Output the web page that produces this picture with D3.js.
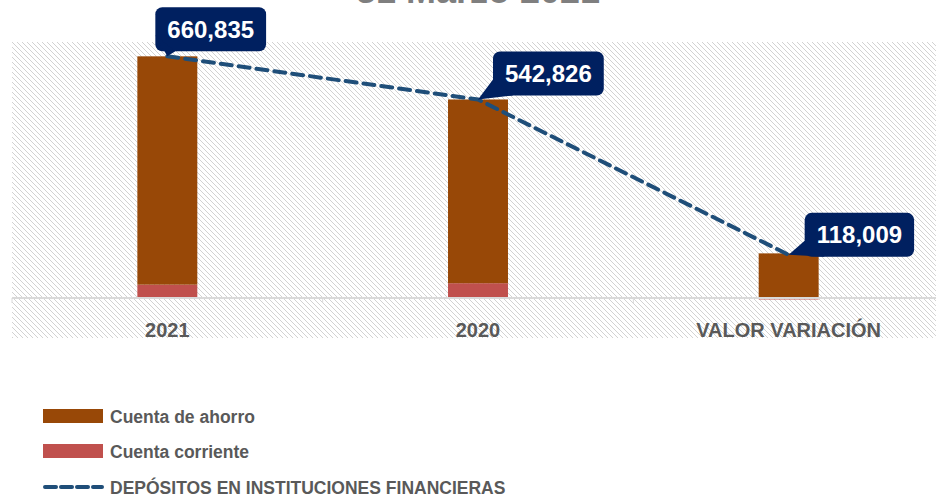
<!DOCTYPE html>
<html>
<head>
<meta charset="utf-8">
<script src="https://cdn.jsdelivr.net/npm/d3@7"></script>
<style>
    body { margin: 0; background: #ffffff; overflow: hidden; }
    text { font-family: "Liberation Sans", Arial, sans-serif; }
</style>
</head>
<body>
<script>
// data
const categories = ["2021", "2020", "VALOR VARIACIÓN"];
const cuentaAhorro = [624335, 502326, 122009];
const cuentaCorriente = [36500, 40500, -4000];
const depositos = [660835, 542826, 118009];
const seriesNames = ["Cuenta de ahorro", "Cuenta corriente", "DEPÓSITOS EN INSTITUCIONES FINANCIERAS"];
const titleText = "31 Marzo 2021";

document.addEventListener("DOMContentLoaded", () => {
    width = 936;
    height = 497;

    svg = d3.select("body").append("svg").attr("width", width).attr("height", height);

    // hatch pattern for the plot background (1px diagonal dots)
    {
        const size = 5;
        const pat = svg.append("defs").append("pattern")
            .attr("id", "hatch")
            .attr("patternUnits", "userSpaceOnUse")
            .attr("width", size)
            .attr("height", size);
        pat.selectAll("rect")
            .data(d3.range(size))
            .enter()
            .append("rect")
            .attr("x", (i) => i)
            .attr("y", (i) => i)
            .attr("width", 1)
            .attr("height", 1)
            .attr("fill", "#d2d2d2")
            .attr("shape-rendering", "crispEdges");
    }

    plot = { left: 12, right: 944, top: 42, bottom: 298, bgBottom: 338 };

    svg.append("rect")
        .attr("x", plot.left)
        .attr("y", plot.top)
        .attr("width", width - plot.left)
        .attr("height", plot.bgBottom - plot.top)
        .attr("fill", "url(#hatch)");

    // title, cut off at the top like the source picture
    svg.append("text")
        .text(titleText)
        .attr("x", 478)
        .attr("y", 3)
        .attr("text-anchor", "middle")
        .attr("font-size", 36)
        .attr("font-weight", "bold")
        .attr("fill", "#7f7f7f");

    x = d3.scaleBand().domain(categories).range([plot.left, plot.right]).paddingInner(0.807).paddingOuter(0.4035);
    y = d3.scaleLinear().domain([0, 700000]).range([plot.bottom, plot.top]);

    const rows = categories.map((c, i) => ({ cat: c, ahorro: cuentaAhorro[i], corriente: cuentaCorriente[i] }));
    const stack = d3.stack().keys(["corriente", "ahorro"]).offset(d3.stackOffsetDiverging)(rows);
    const colors = { ahorro: "#984807", corriente: "#c0504d" };

    // bars
    {
        svg.append("g").selectAll("g")
            .data(stack)
            .enter()
            .append("g")
            .attr("fill", (d) => colors[d.key])
            .selectAll("rect")
            .data((d) => d)
            .enter()
            .append("rect")
            .attr("x", (d) => x(d.data.cat))
            .attr("width", x.bandwidth())
            .attr("y", (d) => y(Math.max(d[0], d[1])))
            .attr("height", (d) => Math.abs(y(d[0]) - y(d[1])));
    }

    // category axis
    {
        const ax = svg.append("g").attr("transform", `translate(0,${plot.bottom})`);
        ax.append("line")
            .attr("x1", plot.left)
            .attr("x2", width)
            .attr("stroke", "#d9d9d9")
            .attr("stroke-width", 2);
        const step = x.step();
        ax.selectAll(".tick")
            .data(d3.range(categories.length + 1))
            .enter()
            .append("line")
            .attr("x1", (i) => plot.left + i * step)
            .attr("x2", (i) => plot.left + i * step)
            .attr("y1", 0)
            .attr("y2", 5)
            .attr("stroke", "#d9d9d9")
            .attr("stroke-width", 1);
        ax.selectAll(".lbl")
            .data(categories)
            .enter()
            .append("text")
            .text((d) => d)
            .attr("x", (d) => x(d) + x.bandwidth() / 2)
            .attr("y", 39)
            .attr("text-anchor", "middle")
            .attr("font-size", 20)
            .attr("font-weight", "bold")
            .attr("fill", "#595959");
    }

    // line
    const cx = (i) => x(categories[i]) + x.bandwidth() / 2;
    {
        const line = d3.line().x((d, i) => cx(i)).y((d) => y(d));
        svg.append("path")
            .attr("d", line(depositos))
            .attr("fill", "none")
            .attr("stroke", "#1f4e79")
            .attr("stroke-width", 4)
            .attr("stroke-dasharray", "11,7")
            .attr("stroke-linecap", "round");
    }

    // callout labels
    {
        const offsets = [[-12, -49], [15, -48], [16, -42]];
        const fmt = d3.format(",");
        depositos.forEach((v, i) => {
            const px = cx(i), py = y(v);
            const g = svg.append("g");
            const t = g.append("text")
                .text(fmt(v))
                .attr("font-size", 24)
                .attr("font-weight", "bold")
                .attr("fill", "#ffffff");
            const tw = t.node().getComputedTextLength();
            const w = tw + 24, h = 44;
            const bx = px + offsets[i][0], by = py + offsets[i][1];
            g.insert("rect", "text")
                .attr("x", bx)
                .attr("y", by)
                .attr("width", w)
                .attr("height", h)
                .attr("rx", 7)
                .attr("fill", "#002060");
            g.insert("path", "text")
                .attr("d", `M${bx},${by + h - 16}L${bx + 20},${by + h}L${px},${py}Z`)
                .attr("fill", "#002060");
            t.attr("x", bx + w / 2).attr("y", by + h / 2 + 8.5).attr("text-anchor", "middle");
        });
    }

    // legend
    {
        const legend = svg.append("g").attr("transform", "translate(43,0)");
        const rowsY = [416, 451, 487];
        [colors.ahorro, colors.corriente].forEach((c, i) => {
            legend.append("rect")
                .attr("x", 0)
                .attr("y", rowsY[i] - 7)
                .attr("width", 60)
                .attr("height", 14)
                .attr("fill", c);
        });
        legend.append("line")
            .attr("x1", 2)
            .attr("x2", 59)
            .attr("y1", rowsY[2])
            .attr("y2", rowsY[2])
            .attr("stroke", "#1f4e79")
            .attr("stroke-width", 4)
            .attr("stroke-dasharray", "11,5")
            .attr("stroke-linecap", "round");
        legend.selectAll("text")
            .data(seriesNames)
            .enter()
            .append("text")
            .text((d) => d)
            .attr("x", 67)
            .attr("y", (d, i) => rowsY[i] + 6.5)
            .attr("font-size", 17.5)
            .attr("font-weight", "bold")
            .attr("fill", "#595959");
    }
});
</script>
</body>
</html>
